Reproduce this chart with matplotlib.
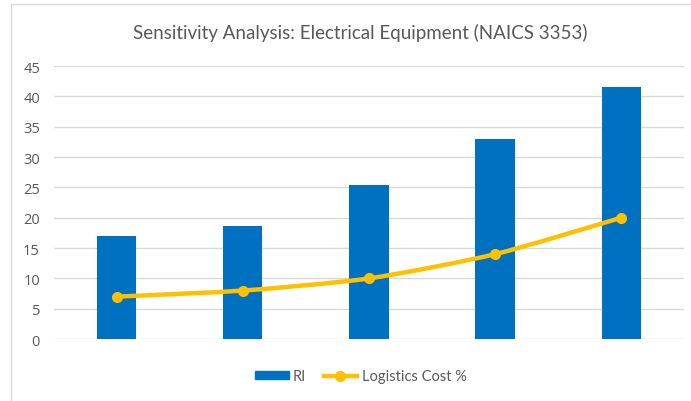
import numpy as np
import matplotlib.pyplot as plt
from matplotlib.path import Path
from matplotlib.patches import PathPatch, Rectangle
from matplotlib.lines import Line2D

plt.rcParams['font.family'] = ['Lato', 'DejaVu Sans']

# scenarios (no category labels shown on the axis)
scenarios = [1, 2, 3, 4, 5]
ri = [17.0, 18.6, 25.4, 33.0, 41.6]
logistics_cost = [7, 8, 10, 14, 20]

blue = '#0070C0'
gold = '#FFC000'
grey_txt = '#595959'
grid_col = '#D9D9D9'


def smooth_path(xs, ys, k=9.0):
    # cubic bezier through every point, like a spreadsheet "smoothed line"
    pts = list(zip(xs, ys))
    verts = [pts[0]]
    codes = [Path.MOVETO]
    n = len(pts)
    for i in range(n - 1):
        p0 = pts[i - 1] if i > 0 else pts[i]
        p1 = pts[i]
        p2 = pts[i + 1]
        p3 = pts[i + 2] if i + 2 < n else pts[i + 1]
        c1 = (p1[0] + (p2[0] - p0[0]) / k, p1[1] + (p2[1] - p0[1]) / k)
        c2 = (p2[0] - (p3[0] - p1[0]) / k, p2[1] - (p3[1] - p1[1]) / k)
        verts += [c1, c2, p2]
        codes += [Path.CURVE4] * 3
    return Path(verts, codes)


fig = plt.figure(figsize=(6.91, 4.02), dpi=100)
ax = fig.add_axes([0.078, 0.154, 0.912, 0.679])

x = np.arange(len(scenarios))
ax.bar(x, ri, width=0.31, color=blue, zorder=2)

ax.add_patch(PathPatch(smooth_path(x, logistics_cost), fill=False,
                       edgecolor=gold, lw=3.2, capstyle='round', zorder=3))
ax.plot(x, logistics_cost, linestyle='none', marker='o', ms=7,
        color=gold, zorder=4)

ax.set_xlim(-0.5, len(scenarios) - 0.5)
ax.set_ylim(0, 45)
ax.set_yticks(range(0, 46, 5))
ax.set_xticks([])
ax.yaxis.grid(True, color=grid_col, lw=1)
ax.set_axisbelow(True)
for s in ax.spines.values():
    s.set_visible(False)
ax.tick_params(axis='y', length=0, pad=10, labelsize=10.5, labelcolor=grey_txt)
for lab in ax.get_yticklabels():
    lab.set_fontfamily(['Open Sans', 'DejaVu Sans'])

fig.text(0.522, 0.918, 'Sensitivity Analysis: Electrical Equipment (NAICS 3353)',
         ha='center', va='center', fontsize=13.5, color=grey_txt)

handles = [Rectangle((0, 0), 1, 1, color=blue),
           Line2D([], [], color=gold, lw=3.2, marker='o', ms=7)]
leg = fig.legend(handles, ['RI', 'Logistics Cost %'], loc='center',
                 bbox_to_anchor=(0.522, 0.062), ncol=2, frameon=False,
                 fontsize=10.5, handlelength=2.3, handleheight=0.45,
                 handletextpad=0.3, columnspacing=1.2)
for t in leg.get_texts():
    t.set_color(grey_txt)

# outer chart border
fig.add_artist(Rectangle((11 / 691, -0.1), 1.2, 1.1 - 5 / 402,
                         transform=fig.transFigure, fill=False,
                         edgecolor=grid_col, lw=1))

fig.savefig('out.png', dpi=100)
